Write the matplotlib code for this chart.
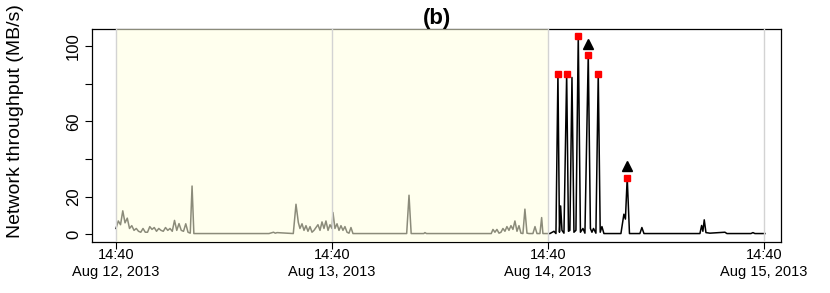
import matplotlib
matplotlib.use("Agg")
import matplotlib.pyplot as plt
from datetime import datetime, timedelta

plt.rcParams['font.family'] = ['Liberation Sans', 'DejaVu Sans']

# hours after Aug 12 2013 14:40, throughput in MB/s
hours = [0.0, 0.25, 0.5, 0.75, 1.0, 1.25, 1.5, 1.75, 2.0, 2.25, 2.5, 2.75, 3.0, 3.25, 3.5,
         3.75, 4.0, 4.25, 4.5, 4.75, 5.0, 5.25, 5.5, 5.75, 6.0, 6.25, 6.5, 6.75, 7.0, 7.25,
         7.5, 7.75, 8.0, 8.25, 8.45, 8.65, 17.0, 17.5, 17.7, 17.9, 19.7, 20.0,
         20.26, 20.44, 20.67, 20.89, 21.11, 21.33, 21.56, 21.78, 22.0, 22.22, 22.44, 22.67,
         22.89, 23.11, 23.33, 23.56, 23.78, 24.0, 24.11, 24.33, 24.56, 24.78, 25.0, 25.22,
         25.44, 25.67, 25.89, 26.11, 26.33, 32.3, 32.56, 32.8, 34.2, 34.33, 34.5,
         41.7, 41.89, 42.11, 42.33, 42.56, 42.78, 43.0, 43.22, 43.44, 43.67, 43.89, 44.11,
         44.33, 44.56, 44.78, 45.0, 45.22, 45.44, 45.67, 45.89, 46.33, 46.56, 46.78, 47.11,
         47.3, 47.44, 48.22, 48.67, 48.89, 49.11, 49.28, 49.41, 49.56, 49.78, 50.08, 50.28,
         50.44, 50.67, 50.89, 51.11, 51.37, 51.61, 51.89, 52.11, 52.48, 52.72, 52.89, 53.06,
         53.33, 53.59, 53.81, 54.0, 54.22, 56.11, 56.44, 56.61, 56.81, 57.06, 58.22, 58.44,
         58.67, 64.89, 65.08, 65.22, 65.37, 65.56, 66.0, 67.67, 67.89, 70.56, 70.78, 71.0,
         72.11]
mbps = [3, 7, 5, 12.4, 6, 8.5, 3, 4.5, 2, 3, 1.5, 1, 3, 1, 1,
        4, 2.5, 3.5, 1.5, 3, 2, 1.5, 3.5, 2, 3, 1.5, 7.3, 2, 5.6, 2,
        1.5, 5.5, 1, 0.5, 25.6, 0.3, 0.3, 1.0, 0.5, 0.8, 0.3, 15.9,
        6.2, 3, 5.5, 2, 4.5, 1.5, 4, 1, 2, 3.5, 5, 2,
        6.5, 3, 7, 2, 5, 3, 11.5, 3, 5.5, 2, 4.5, 2,
        4, 1, 0.5, 3.5, 0.3, 0.3, 20.7, 0.3, 0.3, 0.8, 0.3,
        0.3, 2.5, 1, 2.5, 0.5, 1, 3, 1.5, 4, 2, 4.5, 2.5,
        7, 1.5, 4.5, 0.5, 0.3, 13.3, 0.5, 0.3, 0.3, 4, 0.3, 0.3,
        8.8, 0.3, 0.3, 1.5, 0.3, 85.5, 1, 15, 2, 0.5, 85.5, 1.5,
        2, 83.4, 1, 2, 105.7, 1, 3, 0.5, 95.6, 3, 1, 3,
        0.5, 85.5, 1, 4, 0.3, 0.3, 10.6, 8, 30.1, 0.3, 0.3, 3.5,
        0.3, 0.3, 4.6, 1.5, 7.6, 0.8, 0.5, 1, 0.3, 0.3, 0.8, 0.3,
        0.3]

square_hours = [49.11, 50.08, 51.37, 52.48, 53.59, 56.81]
square_vals = [85.5, 85.5, 105.7, 95.6, 85.5, 30.1]
triangle_hours = [52.48, 56.81]
triangle_vals = [101.3, 36.0]

day_ticks = ["Aug 12, 2013", "Aug 13, 2013", "Aug 14, 2013", "Aug 15, 2013"]

t0 = datetime(2013, 8, 12, 14, 40)
def to_dt(hs):
    return [t0 + timedelta(hours=h) for h in hs]

fig = plt.figure(figsize=(8.3, 2.93), dpi=100)
ax = fig.add_axes([92/830, 1 - 242/293, (781 - 92)/830, (242 - 29)/293])

ax.plot(to_dt(hours), mbps, color="black", lw=1.1, zorder=2)
ax.axvspan(t0, t0 + timedelta(days=2), color="#FFFFE0", alpha=0.55, lw=0, zorder=3)
for d in range(4):
    ax.axvline(t0 + timedelta(days=d), color="#D3D3D3", lw=1, zorder=4)

ax.plot(to_dt(square_hours), square_vals, "s", color="red", ms=5, zorder=5)
ax.plot(to_dt(triangle_hours), triangle_vals, "^", color="black", ms=6.5, zorder=5)

ax.set_xlim(t0 - timedelta(hours=2.67), t0 + timedelta(hours=73.9))
ax.set_ylim(-4.2, 109.2)

ax.set_xticks(to_dt([0, 24, 48, 72]))
ax.set_xticklabels(["14:40\n" + d for d in day_ticks], fontsize=10.5, linespacing=1.3)
ax.set_yticks([0, 20, 40, 60, 80, 100])
ax.set_yticklabels(["0", "20", "", "60", "", "100"], fontsize=12, rotation=90, va="center")
ax.tick_params(axis="both", length=5, width=0.8)
ax.tick_params(axis="x", pad=-1)
ax.tick_params(axis="y", pad=3)
ax.set_ylabel("Network throughput (MB/s)", fontsize=14)
ax.yaxis.set_label_coords(-0.099, 0.566)
ax.set_title("(b)", fontsize=16, fontweight="bold", pad=1)
for s in ax.spines.values():
    s.set_linewidth(0.9)

fig.savefig("out.png", dpi=100)
